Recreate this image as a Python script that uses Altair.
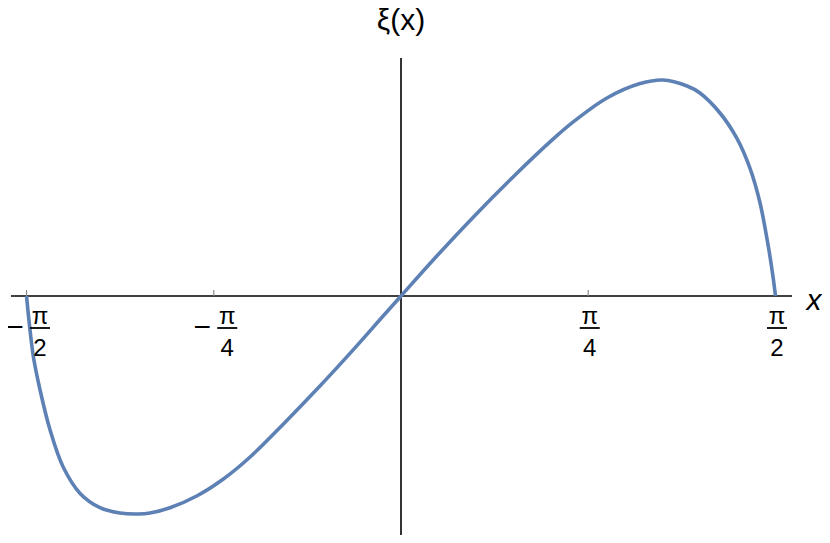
import math
import altair as alt
import pandas as pd

# ---- data ----
x_vals = [-1.5708, -1.558, -1.542, -1.514, -1.472, -1.417, -1.346, -1.263, -1.179,
          -1.102, -1.053, -0.969, -0.857, -0.745, -0.633, -0.494, -0.354, -0.214,
          -0.074, 0.0, 0.134, 0.302, 0.470, 0.633, 0.721, 0.864, 1.003, 1.099,
          1.200, 1.254, 1.338, 1.409, 1.464, 1.506, 1.539, 1.560, 1.5708]
xi_vals = [0.0, -0.150, -0.304, -0.470, -0.670, -0.855, -0.987, -1.058, -1.085,
           -1.090, -1.085, -1.059, -1.000, -0.915, -0.805, -0.641, -0.468, -0.287,
           -0.099, 0.0, 0.179, 0.393, 0.595, 0.779, 0.869, 0.990, 1.062, 1.080,
           1.050, 1.015, 0.915, 0.788, 0.638, 0.465, 0.260, 0.100, 0.0]

tick_values = [-math.pi / 2, -math.pi / 4, math.pi / 4, math.pi / 2]
tick_num = ["π", "π", "π", "π"]
tick_den = ["2", "4", "4", "2"]
tick_sign = ["−", "−", "", ""]

y_title = "ξ(x)"
x_title = "x"

# ---- layout ----
W, H = 814, 527
X_MIN, X_MAX = -1.6485, 1.7659
Y_MIN, Y_MAX = -1.195, 1.44
FONT = "Liberation Sans"
BLUE = "#5E81B5"

curve = pd.DataFrame({"x": x_vals, "xi": xi_vals})
ticks = pd.DataFrame({"x": tick_values, "num": tick_num, "den": tick_den, "sign": tick_sign})
neg_ticks = ticks[ticks["sign"] != ""]
pos_ticks = ticks[ticks["sign"] == ""]

xs = alt.Scale(domain=[X_MIN, X_MAX], nice=False, zero=False)
ys = alt.Scale(domain=[Y_MIN, Y_MAX], nice=False, zero=False)

base_axis = alt.Chart(pd.DataFrame({"a": [0]}))

x_axis = base_axis.mark_rule(color="black", strokeWidth=1.6).encode(
    x=alt.X(datum=-1.636, type="quantitative", scale=xs, axis=None),
    x2=alt.datum(1.640),
    y=alt.Y(datum=0, type="quantitative", scale=ys, axis=None),
)
y_axis = base_axis.mark_rule(color="black", strokeWidth=1.6).encode(
    x=alt.X(datum=0, type="quantitative", scale=xs, axis=None),
    y=alt.Y(datum=Y_MIN, type="quantitative", scale=ys, axis=None),
    y2=alt.datum(1.19),
)

tick_marks = alt.Chart(ticks).mark_rule(color="#8a8a8a", strokeWidth=1.2, y2Offset=-6).encode(
    x=alt.X("x:Q", scale=xs, axis=None),
    y=alt.Y(datum=0, type="quantitative", scale=ys, axis=None),
    y2=alt.datum(0),
)

line = alt.Chart(curve).mark_line(color=BLUE, strokeWidth=3.6, interpolate="catmull-rom").encode(
    x=alt.X("x:Q", scale=xs, axis=None),
    y=alt.Y("xi:Q", scale=ys, axis=None),
    order="x:Q",
)

def frac_layers(df, dx):
    bar = alt.Chart(df).mark_rule(color="black", strokeWidth=1.8,
                                  xOffset=dx - 10, x2Offset=dx + 10, yOffset=32, y2Offset=32).encode(
        x=alt.X("x:Q", scale=xs, axis=None),
        x2="x:Q",
        y=alt.Y(datum=0, type="quantitative", scale=ys, axis=None),
        y2=alt.datum(0),
    )
    num = alt.Chart(df).mark_text(font=FONT, fontSize=24, dx=dx, dy=28, baseline="alphabetic",
                                  align="center", color="black").encode(
        x=alt.X("x:Q", scale=xs, axis=None),
        y=alt.Y(datum=0, type="quantitative", scale=ys, axis=None),
        text="num:N",
    )
    den = alt.Chart(df).mark_text(font=FONT, fontSize=24, dx=dx, dy=60, baseline="alphabetic",
                                  align="center", color="black").encode(
        x=alt.X("x:Q", scale=xs, axis=None),
        y=alt.Y(datum=0, type="quantitative", scale=ys, axis=None),
        text="den:N",
    )
    return [bar, num, den]

signs = alt.Chart(neg_ticks).mark_text(font=FONT, fontSize=30, dx=-11.5, dy=41, baseline="alphabetic",
                                       align="center", color="black").encode(
    x=alt.X("x:Q", scale=xs, axis=None),
    y=alt.Y(datum=0, type="quantitative", scale=ys, axis=None),
    text="sign:N",
)

ytitle = base_axis.mark_text(font=FONT, fontSize=30, baseline="alphabetic", align="center",
                             color="black").encode(
    x=alt.X(datum=0, type="quantitative", scale=xs, axis=None),
    y=alt.value(22),
    text=alt.value(y_title),
)
xtitle = base_axis.mark_text(font=FONT, fontSize=30, fontStyle="italic", baseline="alphabetic",
                             align="center", dy=14, color="black").encode(
    x=alt.X(datum=1.732, type="quantitative", scale=xs, axis=None),
    y=alt.Y(datum=0, type="quantitative", scale=ys, axis=None),
    text=alt.value(x_title),
)

layers = [x_axis, y_axis, tick_marks, line] + frac_layers(neg_ticks, 13.5) + frac_layers(pos_ticks, 1.5) + [signs, ytitle, xtitle]

chart = alt.layer(*layers).properties(
    width=W, height=H,
    autosize=alt.AutoSizeParams(type="none"),
    padding=0,
).configure_view(stroke=None)

chart.save("out.html", embed_options={"renderer": "svg", "actions": False})
